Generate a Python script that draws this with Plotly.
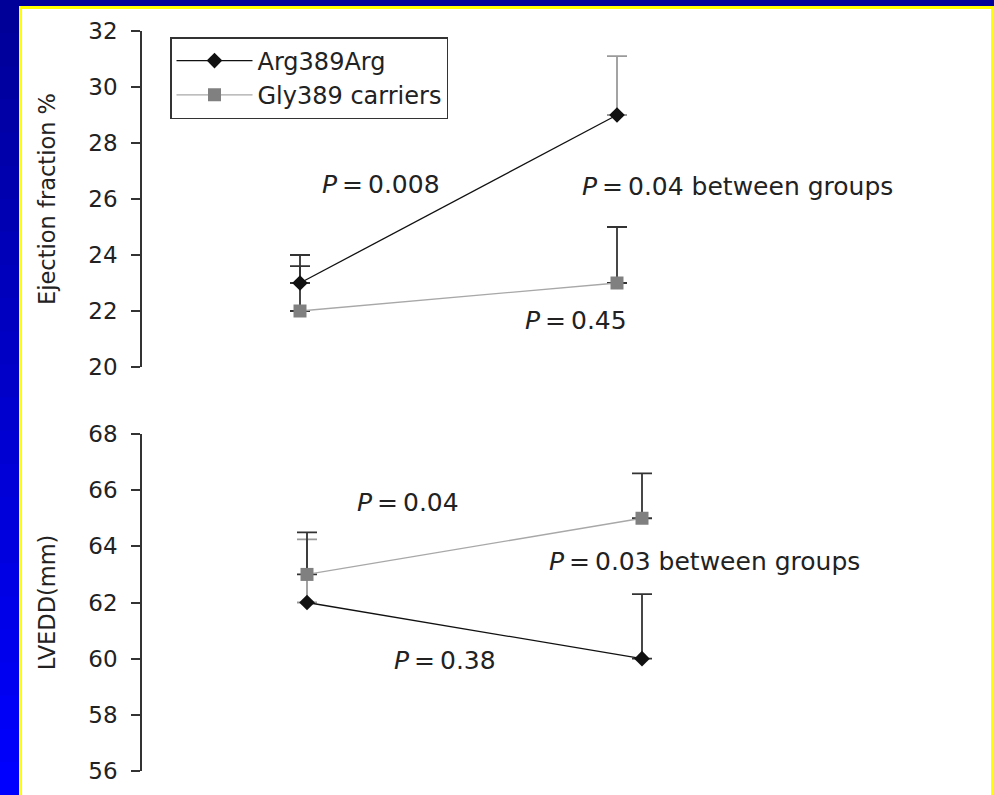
import plotly.graph_objects as go

# ---------------- data ----------------
visits = ["Baseline", "Follow-up"]
series_names = ["Arg389Arg", "Gly389 carriers"]

ef_arg = [23, 29]
ef_arg_err = [1.0, 2.1]
ef_gly = [22, 23]
ef_gly_err = [1.6, 2.0]

lvedd_arg = [62, 60]
lvedd_arg_err = [2.25, 2.3]
lvedd_gly = [63, 65]
lvedd_gly_err = [1.5, 1.6]

ef_ticks = [20, 22, 24, 26, 28, 30, 32]
lvedd_ticks = [56, 58, 60, 62, 64, 66, 68]

ef_pvals = ["<i>P</i>\u2009=\u20090.008", "<i>P</i>\u2009=\u20090.04 between groups", "<i>P</i>\u2009=\u20090.45"]
lvedd_pvals = ["<i>P</i>\u2009=\u20090.04", "<i>P</i>\u2009=\u20090.03 between groups", "<i>P</i>\u2009=\u20090.38"]

# ---------------- style ----------------
W, H = 994, 795
FONT = "DejaVu Sans"
DARK = "#222222"
ARG_COLOR = "#111111"
GLY_COLOR = "#808080"
ERR_DARK = "#333333"
ERR_GRAY = "#9a9a9a"
ef_arg_errcol = [ERR_DARK, ERR_GRAY]
ef_gly_errcol = [ERR_DARK, ERR_DARK]
lvedd_arg_errcol = [ERR_GRAY, ERR_DARK]
lvedd_gly_errcol = [ERR_DARK, ERR_DARK]


def px_x(p):
    return p / W


def px_y(p):
    return 1 - p / H


fig = go.Figure()


def add_errors(xa, ya, yvals, errs, cols):
    for i in range(len(yvals)):
        fig.add_trace(go.Scatter(
            x=[visits[i]], y=[yvals[i]], mode="markers",
            marker=dict(size=1, opacity=0),
            error_y=dict(type="data", array=[errs[i]], arrayminus=[0], symmetric=False,
                         color=cols[i], thickness=1.8, width=10),
            xaxis=xa, yaxis=ya, showlegend=False, hoverinfo="skip"))


# error bars first (under markers)
add_errors("x", "y", ef_arg, ef_arg_err, ef_arg_errcol)
add_errors("x", "y", ef_gly, ef_gly_err, ef_gly_errcol)
add_errors("x2", "y2", lvedd_arg, lvedd_arg_err, lvedd_arg_errcol)
add_errors("x2", "y2", lvedd_gly, lvedd_gly_err, lvedd_gly_errcol)

arg_marker = dict(symbol="diamond", size=12, color=ARG_COLOR)
gly_marker = dict(symbol="square", size=13, color=GLY_COLOR)

fig.add_trace(go.Scatter(x=visits, y=ef_arg, mode="lines+markers", name=series_names[0],
                         line=dict(color=ARG_COLOR, width=1.3), marker=arg_marker,
                         xaxis="x", yaxis="y", legendrank=1))
fig.add_trace(go.Scatter(x=visits, y=ef_gly, mode="lines+markers", name=series_names[1],
                         line=dict(color="#a8a8a8", width=1.3), marker=gly_marker,
                         xaxis="x", yaxis="y", legendrank=2))
fig.add_trace(go.Scatter(x=visits, y=lvedd_arg, mode="lines+markers", name=series_names[0],
                         line=dict(color=ARG_COLOR, width=1.3), marker=arg_marker,
                         xaxis="x2", yaxis="y2", showlegend=False))
fig.add_trace(go.Scatter(x=visits, y=lvedd_gly, mode="lines+markers", name=series_names[1],
                         line=dict(color="#a8a8a8", width=1.3), marker=gly_marker,
                         xaxis="x2", yaxis="y2", showlegend=False))

# ---------------- background frame ----------------
shapes = []
nband = 24
for i in range(nband):
    t = i / (nband - 1)
    b = int(0x99 + (0xFF - 0x99) * t)
    shapes.append(dict(type="rect", xref="paper", yref="paper", layer="below",
                       x0=0, x1=px_x(20), y0=max(0, px_y(H * (i + 1) / nband + 1)), y1=px_y(H * i / nband),
                       fillcolor=f"rgb(0,0,{b})", line=dict(width=0)))
shapes.append(dict(type="rect", xref="paper", yref="paper", layer="below",
                   x0=px_x(19), x1=1, y0=0, y1=px_y(6),
                   fillcolor="#ffff00", line=dict(width=0)))
shapes.append(dict(type="rect", xref="paper", yref="paper", layer="below",
                   x0=px_x(22), x1=px_x(991), y0=0, y1=px_y(9),
                   fillcolor="#ffffff", line=dict(width=0)))

# ---------------- annotations ----------------
ann_pos_ef = [(320, 185), (580, 187), (523, 320)]
ann_pos_lv = [(355, 502), (547, 561), (392, 660)]
annotations = []
for txt, (ax, ay) in zip(ef_pvals + lvedd_pvals, ann_pos_ef + ann_pos_lv):
    annotations.append(dict(text=txt, xref="paper", yref="paper", x=px_x(ax), y=px_y(ay),
                            xanchor="left", yanchor="middle", showarrow=False,
                            font=dict(family=FONT, size=25, color=DARK)))

yaxis_common = dict(showgrid=False, zeroline=False, showline=True, linecolor="#333333", linewidth=1.5,
                    ticks="outside", ticklen=9, tickwidth=1.5, tickcolor="#333333", automargin=False,
                    tickfont=dict(family=FONT, size=23, color=DARK), ticklabelstandoff=9)

xaxis_common = dict(visible=False, type="category", showgrid=False, zeroline=False, automargin=False)

fig.update_layout(
    template="none",
    width=W, height=H,
    margin=dict(l=0, r=0, t=0, b=0, pad=0, autoexpand=False),
    paper_bgcolor="#000099",
    plot_bgcolor="rgba(0,0,0,0)",
    shapes=shapes,
    annotations=annotations,
    xaxis=dict(**xaxis_common, domain=[px_x(142), px_x(990)], range=[-(300 - 142) / 317, (990 - 300) / 317], anchor="y"),
    xaxis2=dict(**xaxis_common, domain=[px_x(142), px_x(990)], range=[-(307 - 142) / 335, (990 - 307) / 335], anchor="y2"),
    yaxis=dict(**yaxis_common, domain=[px_y(367), px_y(31)], range=[20, 32], tickvals=ef_ticks,
               anchor="x", title=dict(text="Ejection fraction %", standoff=26,
                                      font=dict(family=FONT, size=22.5, color=DARK))),
    yaxis2=dict(**yaxis_common, domain=[px_y(771), px_y(434)], range=[56, 68], tickvals=lvedd_ticks,
                anchor="x2", title=dict(text="LVEDD(mm)", standoff=26,
                                        font=dict(family=FONT, size=22.5, color=DARK))),
    legend=dict(x=px_x(170), y=px_y(37), xanchor="left", yanchor="top",
                bgcolor="#ffffff", bordercolor="#333333", borderwidth=1.5,
                font=dict(family=FONT, size=24, color=DARK), itemwidth=76,
                tracegroupgap=0),
    showlegend=True,
)

fig.write_html("out.html")
